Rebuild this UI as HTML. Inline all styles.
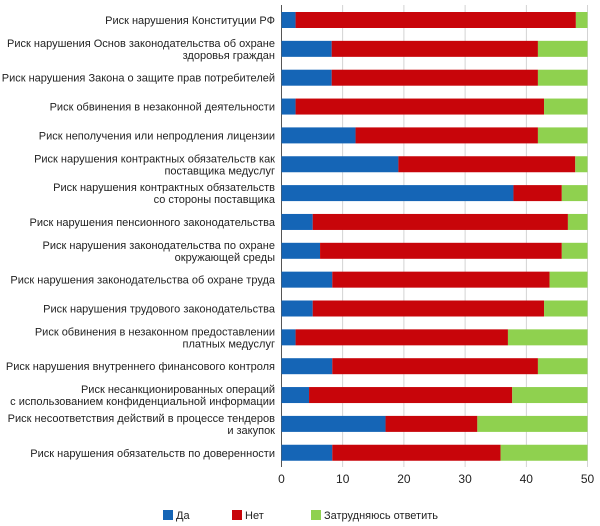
<!DOCTYPE html>
<html><head><meta charset="utf-8"><style>
html,body{margin:0;padding:0;background:#fff;}
svg{display:block;font-family:"Liberation Sans",sans-serif;}
</style></head><body>
<svg id="chart" width="600" height="526" viewBox="0 0 600 526" xmlns="http://www.w3.org/2000/svg">
<g id="grid"></g>
<g id="bars"></g>
<g id="labels"></g>
<g id="ticks"></g>
<g>
  <g><rect x="163" y="510" width="10" height="10" fill="#1565b6"/><text x="176" y="519" font-size="11" fill="#222">Да</text></g>
  <g><rect x="232" y="510" width="10" height="10" fill="#c8050a"/><text x="245" y="519" font-size="11" fill="#222">Нет</text></g>
  <g><rect x="311" y="510" width="10" height="10" fill="#8fd14f"/><text x="324" y="519" font-size="11" fill="#222">Затрудняюсь ответить</text></g>
</g>
</svg>
<script>
const categories = [
 ["Риск нарушения Конституции РФ"],
 ["Риск нарушения Основ законодательства об охране","здоровья граждан"],
 ["Риск нарушения Закона о защите прав потребителей"],
 ["Риск обвинения в незаконной деятельности"],
 ["Риск неполучения или непродления лицензии"],
 ["Риск нарушения контрактных обязательств как","поставщика медуслуг"],
 ["Риск нарушения контрактных обязательств","со стороны поставщика"],
 ["Риск нарушения пенсионного законодательства"],
 ["Риск нарушения законодательства по охране","окружающей среды"],
 ["Риск нарушения законодательства об охране труда"],
 ["Риск нарушения трудового законодательства"],
 ["Риск обвинения в незаконном предоставлении","платных медуслуг"],
 ["Риск нарушения внутреннего финансового контроля"],
 ["Риск несанкционированных операций","с использованием конфиденциальной информации"],
 ["Риск несоответствия действий в процессе тендеров","и закупок"],
 ["Риск нарушения обязательств по доверенности"]
];
const yesValues = [2.3,8.2,8.2,2.3,12.1,19.1,37.9,5.1,6.3,8.3,5.1,2.3,8.3,4.5,17,8.3];
const noValues  = [45.8,33.7,33.7,40.6,29.8,28.9,7.9,41.7,39.5,35.5,37.8,34.7,33.6,33.2,15,27.5];
const unsureValues = [1.9,8.1,8.1,7.1,8.1,2,4.2,3.2,4.2,6.2,7.1,13,8.1,12.3,18,14.2];
const tickLabels = [0,10,20,30,40,50];
const xMax = 50;
</script>
<script>
const NS="http://www.w3.org/2000/svg";
const x0=281.5, x1=587.5;
const xs=v=>x0+(v/xMax)*(x1-x0);
const rowY=i=>20+i*28.85;
const bh=16;
function mk(tag,attrs,parent){const e=document.createElementNS(NS,tag);for(const k in attrs)e.setAttribute(k,attrs[k]);parent.appendChild(e);return e;}
const grid=document.getElementById('grid'),bars=document.getElementById('bars'),labels=document.getElementById('labels'),ticks=document.getElementById('ticks');
tickLabels.forEach(t=>{
  const l=mk('line',{x1:xs(t),x2:xs(t),y1:5,y2:467,stroke:t===0?'#555':'#c8c8c8','stroke-width':t===0?1:0.8},grid);
  
  
  const tx=mk('text',{x:xs(t),y:483,'text-anchor':'middle','font-size':12,fill:'#222'},ticks);
  tx.textContent=t;
  
  
});
const colors=['#1565b6','#c8050a','#8fd14f'];
const names=['yes','no','unsure'];
categories.forEach((c,i)=>{
  const vals=[yesValues[i],noValues[i],unsureValues[i]];
  let acc=0;
  vals.forEach((v,k)=>{
    const r=mk('rect',{x:xs(acc),y:rowY(i)-bh/2,width:Math.max(0,xs(acc+v)-xs(acc)),height:bh,fill:colors[k]},bars);
    
    
    acc+=v;
  });
  const t=mk('text',{x:275,'text-anchor':'end','font-size':11,fill:'#222'},labels);
  
  
  const n=c.length, y0=rowY(i)+4-(n-1)*6;
  c.forEach((line,j)=>{const ts=mk('tspan',{x:275,y:y0+j*12},t);ts.textContent=line;});
});
</script>
</body></html>
